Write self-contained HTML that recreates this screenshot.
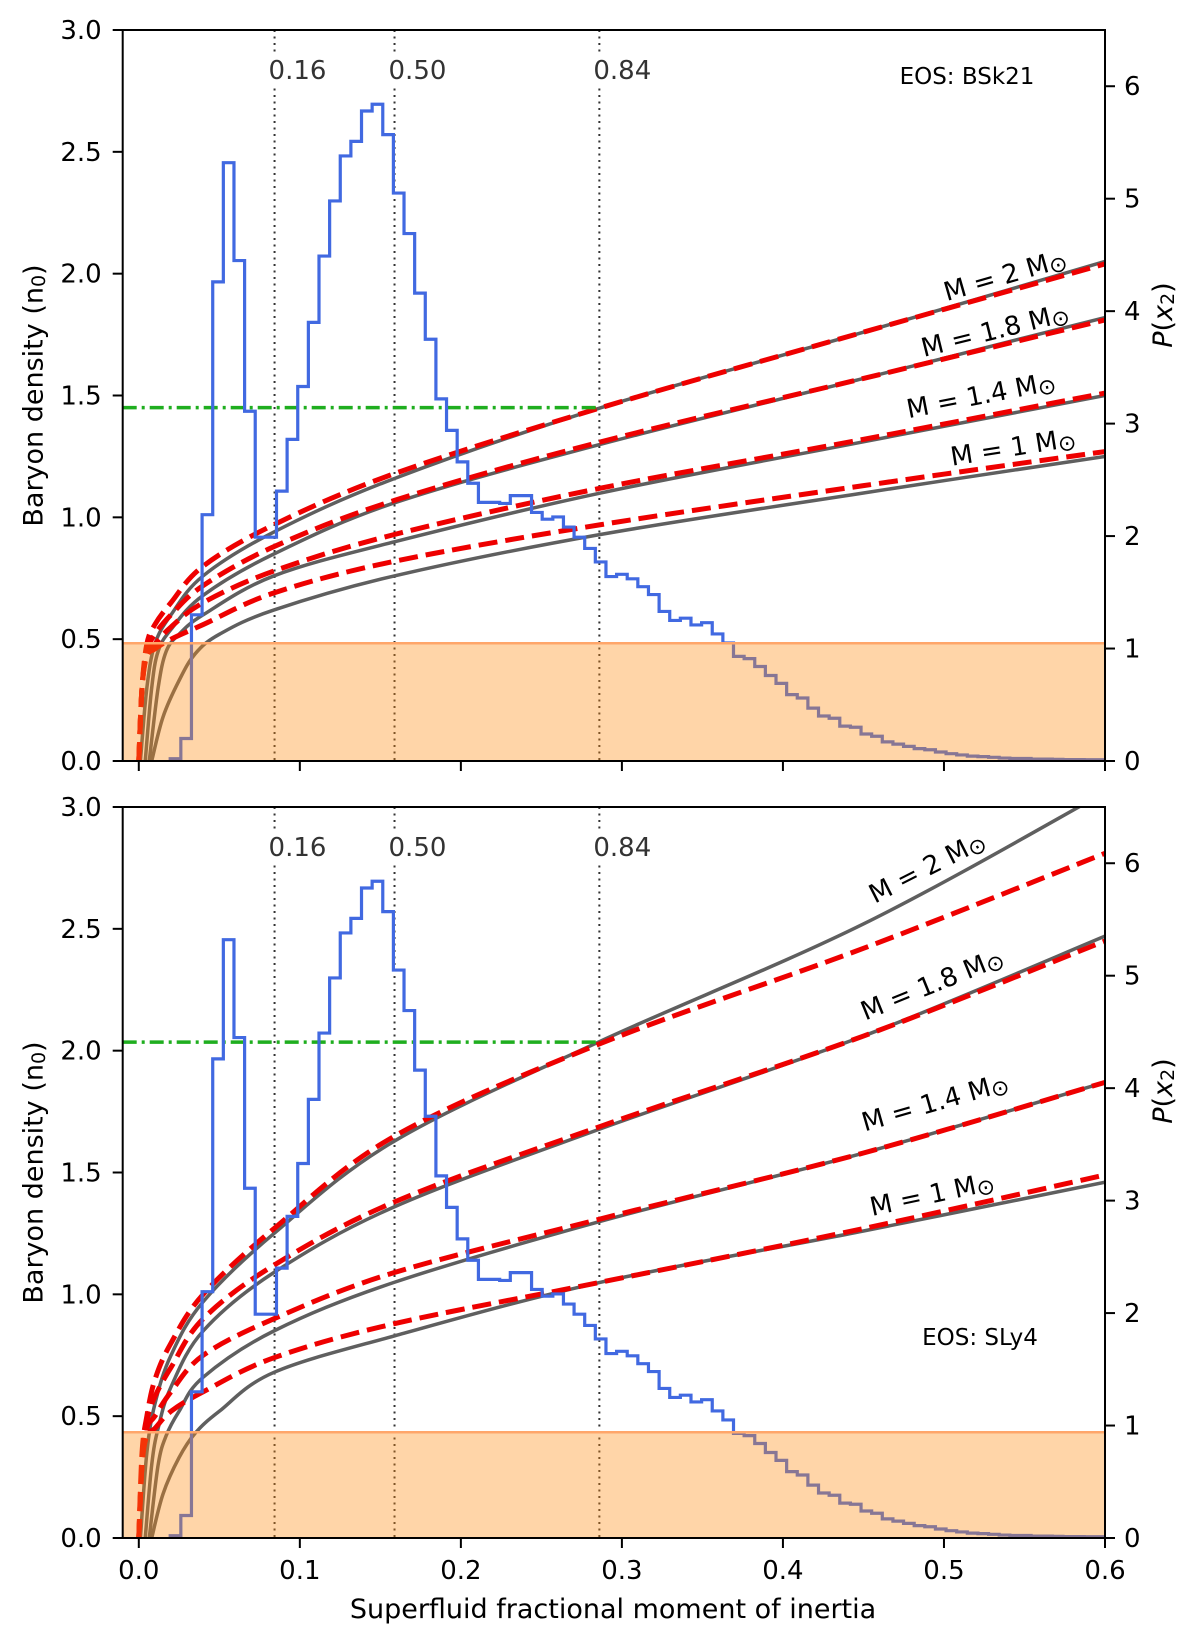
<!DOCTYPE html>
<html><head><meta charset="utf-8"><style>
html,body{margin:0;padding:0;background:#fff;}
svg{display:block;font-family:"DejaVu Sans","Liberation Sans",sans-serif;}
</style></head><body>
<svg id="fig" width="1200" height="1645" viewBox="0 0 1200 1645" xmlns="http://www.w3.org/2000/svg"></svg>
<script>
// ---------- data ----------
const histStart = 0.0195;
const histWidth = 0.0066;
const histP = [0.02,0.2,1.30,2.19,4.26,5.32,4.45,3.11,1.99,1.99,2.40,2.86,3.33,3.90,4.49,4.98,5.38,5.51,5.78,5.84,5.57,5.05,4.69,4.16,3.75,3.22,2.94,2.66,2.47,2.30,2.30,2.29,2.36,2.36,2.21,2.15,2.17,2.08,1.99,1.89,1.77,1.64,1.66,1.62,1.55,1.48,1.33,1.25,1.27,1.21,1.23,1.13,1.05,0.93,0.91,0.84,0.76,0.69,0.59,0.56,0.47,0.40,0.38,0.31,0.30,0.24,0.22,0.17,0.15,0.13,0.11,0.10,0.08,0.065,0.054,0.043,0.039,0.033,0.026,0.022,0.022,0.017,0.017,0.015,0.013,0.013,0.011,0.011,0.011];
const percentileX = [0.0843,0.1588,0.286];
const percentileLabels = ["0.16","0.50","0.84"];
const massLabels = ["2","1.8","1.4","1"];
const xTicks = [0.0,0.1,0.2,0.3,0.4,0.5,0.6];
const yTicksLeft = [0.0,0.5,1.0,1.5,2.0,2.5,3.0];
const yTicksRight = [0,1,2,3,4,5,6];
// top panel (BSk21)
const topGray = [
 [[0.001,0],[0.005,0.3],[0.01,0.48],[0.02,0.6],[0.04,0.76],[0.084,0.94],[0.159,1.16],[0.287,1.45],[0.45,1.76],[0.6,2.05]],
 [[0.004,0],[0.008,0.3],[0.012,0.45],[0.02,0.54],[0.04,0.68],[0.084,0.85],[0.159,1.06],[0.287,1.30],[0.45,1.57],[0.6,1.82]],
 [[0.0065,0],[0.012,0.3],[0.017,0.45],[0.025,0.52],[0.04,0.6],[0.084,0.76],[0.159,0.9],[0.287,1.10],[0.45,1.31],[0.6,1.50]],
 [[0.008,0],[0.015,0.18],[0.025,0.33],[0.035,0.44],[0.05,0.52],[0.084,0.62],[0.159,0.76],[0.287,0.93],[0.45,1.1],[0.6,1.25]]
];
const topRed = [
 [[0,0],[0.002,0.3],[0.005,0.48],[0.01,0.56],[0.02,0.65],[0.04,0.8],[0.084,0.97],[0.159,1.18],[0.287,1.45],[0.45,1.76],[0.6,2.04]],
 [[0,0],[0.002,0.3],[0.005,0.45],[0.01,0.52],[0.02,0.6],[0.04,0.72],[0.084,0.88],[0.159,1.07],[0.287,1.31],[0.45,1.57],[0.6,1.81]],
 [[0,0],[0.002,0.3],[0.005,0.44],[0.01,0.48],[0.02,0.55],[0.04,0.65],[0.084,0.78],[0.159,0.93],[0.287,1.12],[0.45,1.32],[0.6,1.51]],
 [[0,0],[0.002,0.3],[0.005,0.43],[0.01,0.46],[0.02,0.5],[0.04,0.56],[0.084,0.69],[0.159,0.82],[0.287,0.97],[0.45,1.13],[0.6,1.27]]
];
// bottom panel (SLy4)
const botGray = [
 [[0.001,0],[0.005,0.35],[0.01,0.55],[0.02,0.75],[0.04,0.97],[0.084,1.25],[0.159,1.63],[0.287,2.04],[0.45,2.52],[0.6,3.06]],
 [[0.004,0],[0.008,0.3],[0.012,0.45],[0.02,0.62],[0.04,0.85],[0.084,1.09],[0.159,1.36],[0.287,1.68],[0.45,2.06],[0.6,2.47]],
 [[0.0065,0],[0.012,0.3],[0.017,0.42],[0.025,0.52],[0.04,0.66],[0.084,0.85],[0.159,1.05],[0.287,1.30],[0.45,1.58],[0.6,1.87]],
 [[0.008,0],[0.015,0.18],[0.025,0.33],[0.035,0.43],[0.05,0.52],[0.084,0.68],[0.159,0.83],[0.287,1.05],[0.45,1.26],[0.6,1.46]]
];
const botRed = [
 [[0,0],[0.002,0.35],[0.005,0.5],[0.01,0.65],[0.02,0.8],[0.04,1.0],[0.084,1.27],[0.159,1.65],[0.287,2.03],[0.45,2.42],[0.6,2.81]],
 [[0,0],[0.002,0.3],[0.005,0.48],[0.01,0.58],[0.02,0.7],[0.04,0.9],[0.084,1.12],[0.159,1.38],[0.287,1.69],[0.45,2.06],[0.6,2.45]],
 [[0,0],[0.002,0.3],[0.005,0.45],[0.01,0.5],[0.02,0.6],[0.04,0.75],[0.084,0.9],[0.159,1.09],[0.287,1.31],[0.45,1.58],[0.6,1.87]],
 [[0,0],[0.002,0.3],[0.005,0.42],[0.01,0.45],[0.02,0.52],[0.04,0.6],[0.084,0.74],[0.159,0.88],[0.287,1.05],[0.45,1.27],[0.6,1.49]]
];
const crustTop = [0.483, 0.434];
const greenLevel = [1.45, 2.035];
const eosNames = ["EOS: BSk21","EOS: SLy4"];

// ---------- layout ----------
const NS="http://www.w3.org/2000/svg";
const svg=document.getElementById('fig');
const X0=122.7, X1=1105, XMIN=-0.01, XMAX=0.6;
const panels=[{top:30,bot:761},{top:807,bot:1538}];
function sx(v){return X0+(v-XMIN)/(XMAX-XMIN)*(X1-X0);}
function mk(tag,attrs,parent){const e=document.createElementNS(NS,tag);for(const k in attrs)e.setAttribute(k,attrs[k]);(parent||svg).appendChild(e);return e;}
function smooth(pts){
  let d='M'+pts[0][0].toFixed(2)+','+pts[0][1].toFixed(2);
  for(let i=0;i<pts.length-1;i++){
    const p0=pts[Math.max(i-1,0)],p1=pts[i],p2=pts[i+1],p3=pts[Math.min(i+2,pts.length-1)];
    const c1=[p1[0]+(p2[0]-p0[0])/6,p1[1]+(p2[1]-p0[1])/6];
    const c2=[p2[0]-(p3[0]-p1[0])/6,p2[1]-(p3[1]-p1[1])/6];
    d+=' C'+c1[0].toFixed(2)+','+c1[1].toFixed(2)+' '+c2[0].toFixed(2)+','+c2[1].toFixed(2)+' '+p2[0].toFixed(2)+','+p2[1].toFixed(2);
  }
  return d;
}
const labelPos=[
 [[1005,275,-16],[995,330,-14],[981,395,-11],[1013,447,-9]],
 [[927,867,-27],[932,984,-22],[935,1102,-16],[932,1194,-12]]
];
const eosPos=[[967,76],[980,1337]];
const pLabelY=[315,1091];

panels.forEach((P,pi)=>{
  const H=P.bot-P.top;
  const syL=v=>P.bot-v/3.0*H;
  const syR=v=>P.bot-v/6.5*H;
  const g=mk('g',{});
  
  
  const cid='clip'+pi;
  const cp=mk('clipPath',{id:cid},g);
  mk('rect',{x:X0,y:P.top,width:X1-X0,height:H},cp);
  const plot=mk('g',{'clip-path':'url(#'+cid+')'},g);

  percentileX.forEach((px,i)=>{
    const l=mk('line',{x1:sx(px),x2:sx(px),y1:P.top,y2:P.bot,stroke:'#333','stroke-width':2,'stroke-dasharray':'2 4.5'},plot);
    
    
  });
  const grays=pi===0?topGray:botGray, reds=pi===0?topRed:botRed;
  grays.forEach((c,i)=>{
    const p=mk('path',{d:smooth(c.map(q=>[sx(q[0]),syL(q[1])])),fill:'none',stroke:'#5f5f5f','stroke-width':3.5},plot);
    
    
  });
  reds.forEach((c,i)=>{
    const p=mk('path',{d:smooth(c.map(q=>[sx(q[0]),syL(q[1])])),fill:'none',stroke:'#ee0000','stroke-width':5,'stroke-dasharray':'19 8'},plot);
    
    
  });
  const gl=mk('line',{x1:X0,x2:sx(percentileX[2]),y1:syL(greenLevel[pi]),y2:syL(greenLevel[pi]),stroke:'#1fae1f','stroke-width':3.5,'stroke-dasharray':'14 5 3 5'},plot);
  
  
  let d='M'+sx(histStart).toFixed(2)+','+syR(0).toFixed(2);
  histP.forEach((v,i)=>{
    const a=sx(histStart+i*histWidth), b=sx(histStart+(i+1)*histWidth);
    d+=' L'+a.toFixed(2)+','+syR(v).toFixed(2)+' L'+b.toFixed(2)+','+syR(v).toFixed(2);
  });
  d+=' L'+sx(histStart+histP.length*histWidth).toFixed(2)+','+syR(0).toFixed(2);
  const hp=mk('path',{d:d,fill:'none',stroke:'#4169e1','stroke-width':3.2,'stroke-linejoin':'miter'},plot);
  
  
  const cy=syL(crustTop[pi]);
  const cr=mk('rect',{x:X0,y:cy,width:X1-X0,height:P.bot-cy,fill:'rgb(255,140,20)','fill-opacity':0.37},plot);
  
  
  mk('line',{x1:X0,x2:X1,y1:cy,y2:cy,stroke:'#ffa66a','stroke-width':2.5},plot);

  percentileX.forEach((px,i)=>{
    const yc=pi===0?70:847;
    mk('rect',{x:sx(px)-6,y:yc-15,width:64,height:30,fill:'#fff'},g);
    const t=mk('text',{x:sx(px)-6,y:yc+9,'font-size':26,fill:'#333'},g);
    t.textContent=percentileLabels[i];
    
    
  });
  labelPos[pi].forEach((lp,i)=>{
    const t=mk('text',{x:lp[0],y:lp[1]+9,'font-size':26,'text-anchor':'middle',transform:'rotate('+lp[2]+' '+lp[0]+' '+lp[1]+')'},g);
    t.textContent='M = '+massLabels[i]+' M';
    const s=mk('tspan',{'font-size':22,dy:3},t);
    s.textContent='\u2299';
    
    
  });
  const et=mk('text',{x:eosPos[pi][0],y:eosPos[pi][1]+8,'font-size':23,'text-anchor':'middle'},g);
  et.textContent=eosNames[pi];
  
  

  mk('rect',{x:X0,y:P.top,width:X1-X0,height:H,fill:'none',stroke:'#000','stroke-width':2},g);
  yTicksLeft.forEach(v=>{
    const y=syL(v);
    mk('line',{x1:X0-10,x2:X0,y1:y,y2:y,stroke:'#000','stroke-width':2},g);
    const t=mk('text',{x:X0-21,y:y+9,'font-size':26,'text-anchor':'end'},g);
    t.textContent=v.toFixed(1);
    
    
  });
  yTicksRight.forEach(v=>{
    const y=syR(v);
    mk('line',{x1:X1,x2:X1+10,y1:y,y2:y,stroke:'#000','stroke-width':2},g);
    const t=mk('text',{x:X1+19,y:y+9,'font-size':26},g);
    t.textContent=String(v);
    
    
  });
  xTicks.forEach(v=>{
    const x=sx(v);
    mk('line',{x1:x,x2:x,y1:P.bot,y2:P.bot+10,stroke:'#000','stroke-width':2},g);
    if(pi===1){
      const t=mk('text',{x:x,y:P.bot+41,'font-size':26,'text-anchor':'middle'},g);
      t.textContent=v.toFixed(1);
      
      
    }
  });
  const yc=(P.top+P.bot)/2;
  const yl=mk('text',{x:34,y:yc,'font-size':27,'text-anchor':'middle','dominant-baseline':'central',transform:'rotate(-90 34 '+yc+')'},g);
  yl.textContent='Baryon density (n';
  const sub=mk('tspan',{'font-size':19,dy:5},yl); sub.textContent='0';
  const cl=mk('tspan',{dy:-5},yl); cl.textContent=')';
  
  
  const py=pLabelY[pi];
  const pl=mk('text',{x:1163,y:py,'font-size':27,'text-anchor':'middle','dominant-baseline':'central',transform:'rotate(-90 1163 '+py+')'},g);
  const pi1=mk('tspan',{'font-style':'italic'},pl); pi1.textContent='P';
  const pi2=mk('tspan',{},pl); pi2.textContent='(';
  const pi3=mk('tspan',{'font-style':'italic'},pl); pi3.textContent='x';
  const pi4=mk('tspan',{'font-size':19,dy:5},pl); pi4.textContent='2';
  const pi5=mk('tspan',{dy:-5},pl); pi5.textContent=')';
  
  
});
const xl=mk('text',{x:613,y:1618,'font-size':27,'text-anchor':'middle'});
xl.textContent='Superfluid fractional moment of inertia';


</script>
</body></html>
